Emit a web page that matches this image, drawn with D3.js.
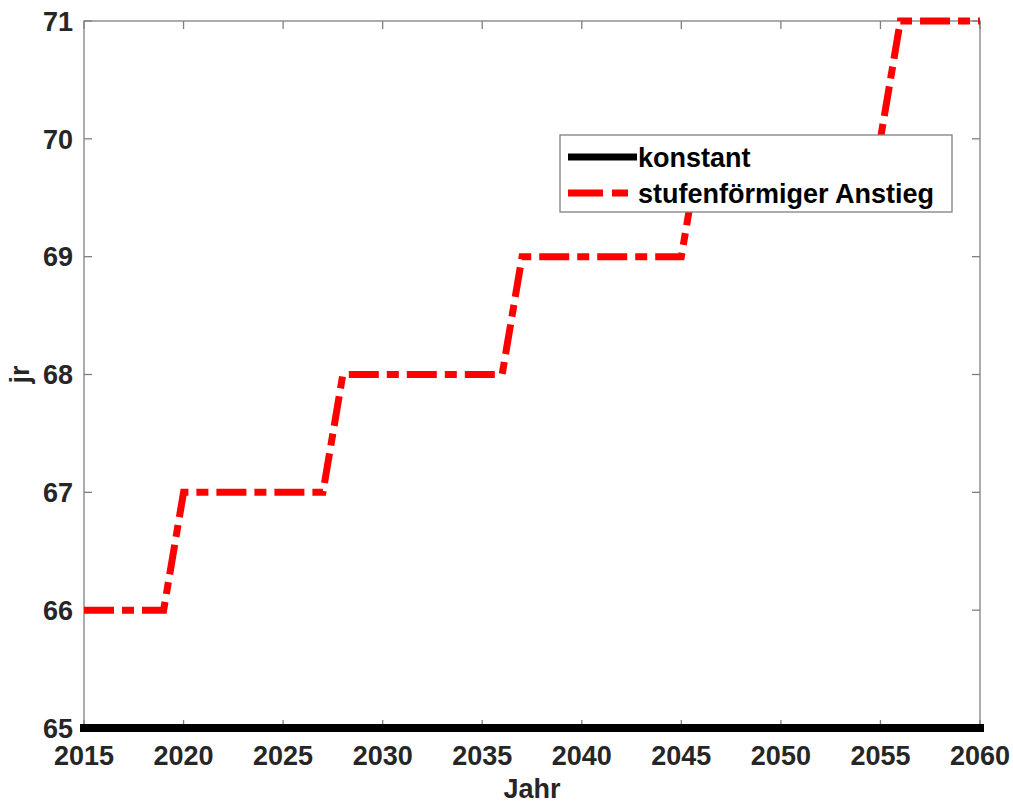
<!DOCTYPE html>
<html lang="de">
<head>
<meta charset="utf-8">
<style>
  body { margin: 0; background: #fff; }
  svg { background: #fff; }
  text { font-family: "Liberation Sans", Arial, sans-serif; font-weight: bold; fill: #262626; }
</style>
</head>
<body>
<div id="chart"></div>
<script src="https://d3js.org/d3.v7.min.js"></script>
<script>
// data
var years = d3.range(2015, 2061);
var konstant = years.map(function () { return 65; });
var stufenWerte = [
  66, 66, 66, 66, 66,                    // 2015-2019
  67, 67, 67, 67, 67, 67, 67, 67,        // 2020-2027
  68, 68, 68, 68, 68, 68, 68, 68, 68,    // 2028-2036
  69, 69, 69, 69, 69, 69, 69, 69, 69,    // 2037-2045
  70, 70, 70, 70, 70, 70, 70, 70, 70, 70,// 2046-2055
  71, 71, 71, 71, 71                     // 2056-2060
];
var xTicks = [2015, 2020, 2025, 2030, 2035, 2040, 2045, 2050, 2055, 2060];
var yTicks = [65, 66, 67, 68, 69, 70, 71];
var seriesNames = ["konstant", "stufenförmiger Anstieg"];

var W = 1013, H = 803;
var margin = {left: 84, top: 21, right: W - 980, bottom: H - 728};
var iw = W - margin.left - margin.right,
    ih = H - margin.top - margin.bottom;

var svg = d3.select("#chart").append("svg")
    .attr("width", W).attr("height", H);

var g = svg.append("g")
    .attr("transform", "translate(" + margin.left + "," + margin.top + ")");

var x = d3.scaleLinear().domain([2015, 2060]).range([0, iw]);
var y = d3.scaleLinear().domain([65, 71]).range([ih, 0]);

var axisColor = "#808080";
var fs = "27px";

// box
g.append("rect")
    .attr("width", iw).attr("height", ih)
    .attr("fill", "none").attr("stroke", axisColor).attr("stroke-width", 1.3);

// ticks (inward, all four sides)
var tl = 8;
xTicks.forEach(function (t) {
  g.append("line").attr("x1", x(t)).attr("x2", x(t)).attr("y1", ih).attr("y2", ih - tl)
    .attr("stroke", axisColor).attr("stroke-width", 1.3);
  g.append("line").attr("x1", x(t)).attr("x2", x(t)).attr("y1", 0).attr("y2", tl)
    .attr("stroke", axisColor).attr("stroke-width", 1.3);
  g.append("text").attr("x", x(t)).attr("y", ih + 37)
    .attr("text-anchor", "middle").style("font-size", fs).text(t);
});
yTicks.forEach(function (t) {
  g.append("line").attr("x1", 0).attr("x2", tl).attr("y1", y(t)).attr("y2", y(t))
    .attr("stroke", axisColor).attr("stroke-width", 1.3);
  g.append("line").attr("x1", iw).attr("x2", iw - tl).attr("y1", y(t)).attr("y2", y(t))
    .attr("stroke", axisColor).attr("stroke-width", 1.3);
  g.append("text").attr("x", -11).attr("y", y(t)).attr("dy", "0.36em")
    .attr("text-anchor", "end").style("font-size", fs).text(t);
});

// axis titles
g.append("text").attr("x", iw / 2).attr("y", ih + 70)
    .attr("text-anchor", "middle").style("font-size", fs).text("Jahr");
g.append("text")
    .attr("transform", "translate(" + (-55) + "," + (ih / 2) + ") rotate(-90)")
    .attr("text-anchor", "middle").style("font-size", fs).text("jr");

var line = d3.line()
    .x(function (d, i) { return x(years[i]); })
    .y(function (d) { return y(d); });

var redDash = "30,8,12,8";

// red step line
g.append("path").datum(stufenWerte)
    .attr("d", line)
    .attr("fill", "none").attr("stroke", "#ff0000").attr("stroke-width", 7)
    .attr("stroke-dasharray", redDash);

// black constant line
g.append("path").datum(konstant)
    .attr("d", line)
    .attr("fill", "none").attr("stroke", "#000").attr("stroke-width", 8)
    .attr("stroke-linecap", "square");

// legend
var lg = svg.append("g").attr("transform", "translate(560,135)");
lg.append("rect").attr("width", 392).attr("height", 77)
    .attr("fill", "#fff").attr("stroke", axisColor).attr("stroke-width", 1.3);
lg.append("line").attr("x1", 8).attr("x2", 77).attr("y1", 22).attr("y2", 22)
    .attr("stroke", "#000").attr("stroke-width", 7);
lg.append("line").attr("x1", 8).attr("x2", 77).attr("y1", 58).attr("y2", 58)
    .attr("stroke", "#ff0000").attr("stroke-width", 7)
    .attr("stroke-dasharray", "35,9,16,9");
seriesNames.forEach(function (n, i) {
  lg.append("text").attr("x", 78).attr("y", 22 + i * 36).attr("dy", "0.36em")
    .style("font-size", fs).style("fill", "#000").text(n);
});
</script>
</body>
</html>
